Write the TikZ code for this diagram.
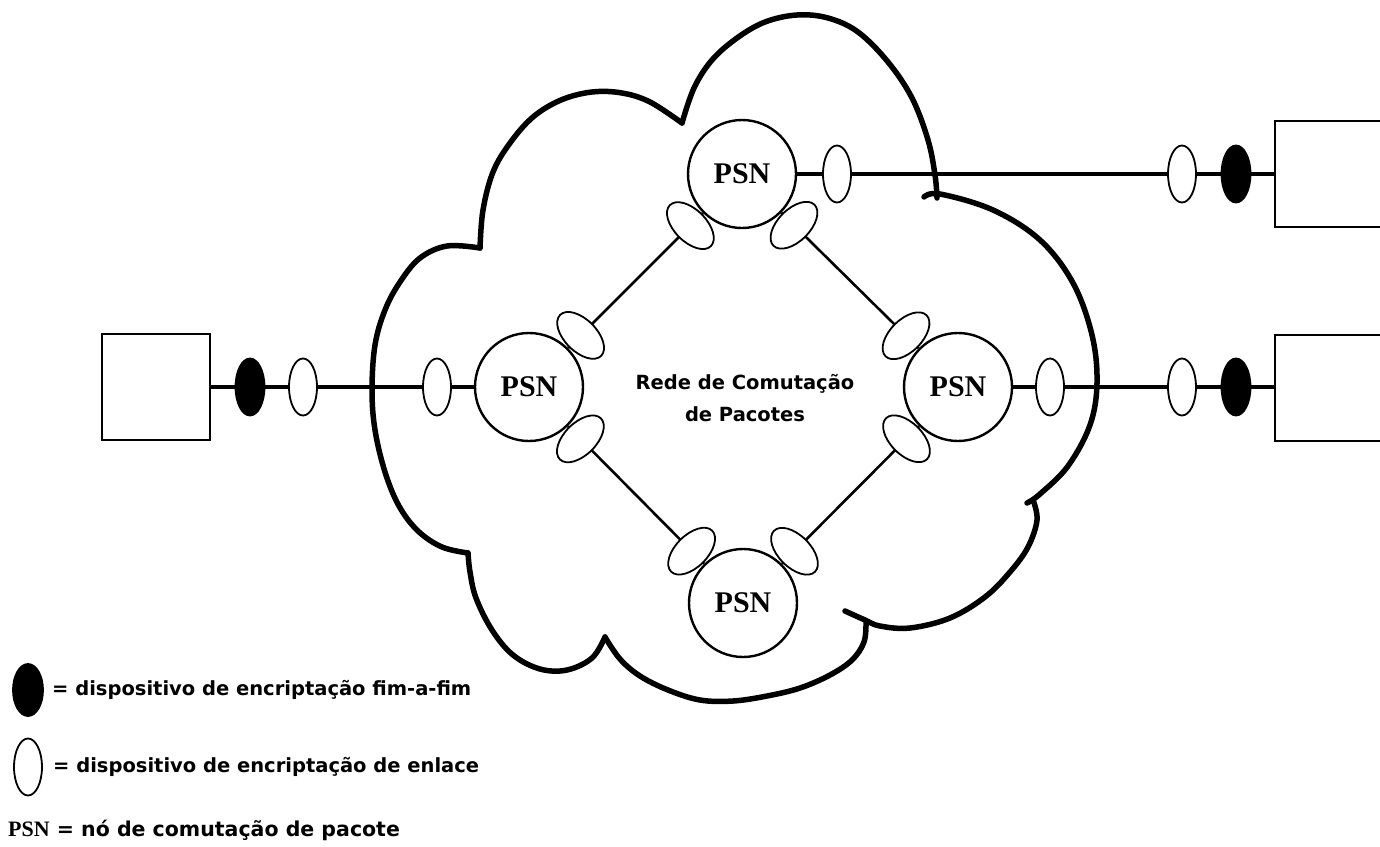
\documentclass[tikz,border=0pt]{standalone}
\usepackage{fontspec}
\setmainfont{Liberation Serif}
\newfontfamily\lsans{DejaVu Sans}
\usetikzlibrary{shapes.geometric,calc}
\begin{document}
\begin{tikzpicture}[x=1pt,y=-1pt,
  cloudline/.style={line width=5.5pt, line cap=round, line join=round},
  hline/.style={line width=3.8pt},
  linkline/.style={line width=2.6pt},
  psn/.style={circle, draw, line width=2.4pt, fill=white, minimum size=108pt, inner sep=0pt, font=\fontsize{30}{32}\selectfont\bfseries},
  linkenc/.style={ellipse, draw, line width=1.8pt, fill=white, minimum width=28pt, minimum height=57pt, inner sep=0pt},
  diagenc/.style={ellipse, draw, line width=1.8pt, fill=white, minimum width=32pt, minimum height=58pt, inner sep=0pt},
  e2e/.style={ellipse, draw, line width=1.8pt, fill=black, minimum width=29pt, minimum height=57pt, inner sep=0pt},
  host/.style={rectangle, draw, line width=2.8pt, fill=white, minimum width=108pt, minimum height=106pt, inner sep=0pt},
  cloudtext/.style={font=\lsans\bfseries\fontsize{19.5}{32}\selectfont, align=center, inner sep=0pt},
  legendtext/.style={font=\lsans\bfseries\fontsize{19.5}{22}\selectfont, anchor=west, inner sep=0pt}
]
\useasboundingbox (0,0) rectangle (1380,846);

% cloud
\draw[cloudline] plot[smooth, tension=0.6] coordinates {(468,553) (442,547) (418,531) (399,506) (385,472) (375,430) (372,390) (375,345) (385,310) (400,282) (420,258) (447,246) (480,248)};
\draw[cloudline] plot[smooth, tension=0.6] coordinates {(480,248) (483,210) (493,172) (510,143) (533,117) (561,100) (592,92) (622,93) (650,102) (682,123)};
\draw[cloudline] plot[smooth, tension=0.6] coordinates {(682,123) (694,88) (712,60) (737,38) (765,22) (797,15) (828,18) (858,32) (888,62) (912,98) (928,140) (935,175) (937,198)};
\draw[cloudline] plot[smooth, tension=0.6] coordinates {(924,197) (940,194) (993,210) (1040,240) (1073,283) (1092,335) (1097,383) (1090,425) (1068,466) (1040,494) (1027,503)};
\draw[cloudline] plot[smooth, tension=0.6] coordinates {(1033,500) (1037,520) (1028,547) (1010,572) (985,597) (950,618) (910,628) (880,626) (865,620) (845,611)};
\draw[cloudline] plot[smooth, tension=0.6] coordinates {(866,622) (864,642) (852,660) (830,675) (800,688) (767,696) (733,701) (700,700) (668,690) (640,676) (620,659) (605,637)};
\draw[cloudline] plot[smooth, tension=0.6] coordinates {(605,637) (592,658) (567,670) (540,669) (513,655) (492,630) (476,598) (470,572) (468,553)};

% packet switching nodes
\node[psn] (pL) at (529,387) {PSN};
\node[psn] (pT) at (742,174) {PSN};
\node[psn] (pR) at (958,387) {PSN};
\node[psn] (pB) at (743,603) {PSN};

% hosts
\node[host] (bL) at (156,387) {};
\node[host, minimum width=110pt] (bTR) at (1330,174) {};
\node[host, minimum width=110pt] (bBR) at (1330,388) {};

% access lines
\draw[hline] (bL) -- (pL);
\draw[hline] (pT) -- (bTR.west |- pT);
\draw[hline] (pR) -- (bBR.west |- pR);

% links between PSNs
\draw[linkline] (pL) -- (pT);
\draw[linkline] (pT) -- (pR);
\draw[linkline] (pL) -- (pB);
\draw[linkline] (pB) -- (pR);

% encryption devices on access lines
\node[e2e] (kL) at (250,387) {};
\node[linkenc] (wL1) at (303,387) {};
\node[linkenc] (wL2) at (437,387) {};
\node[linkenc] (wT) at (837,174) {};
\node[linkenc] (wTR) at (1182,174) {};
\node[e2e] (kTR) at (1236,174) {};
\node[linkenc] (wR) at (1050,387) {};
\node[linkenc] (wRR) at (1182,387) {};
\node[e2e] (kRR) at (1236,387) {};

% encryption devices on PSN links
\node[diagenc, rotate=45] (eLT) at ($(pL)!73pt!(pT)$) {};
\node[diagenc, rotate=45] (eTL) at ($(pT)!73pt!(pL)$) {};
\node[diagenc, rotate=-45] (eTR) at ($(pT)!73pt!(pR)$) {};
\node[diagenc, rotate=-45] (eRT) at ($(pR)!73pt!(pT)$) {};
\node[diagenc, rotate=-45] (eLB) at ($(pL)!73pt!(pB)$) {};
\node[diagenc, rotate=-45] (eBL) at ($(pB)!73pt!(pL)$) {};
\node[diagenc, rotate=45] (eBR) at ($(pB)!73pt!(pR)$) {};
\node[diagenc, rotate=45] (eRB) at ($(pR)!73pt!(pB)$) {};

% cloud caption
\node[cloudtext] (ct) at (745,398) {Rede de Comutação\\de Pacotes};

% legend
\node[e2e, minimum width=30pt, minimum height=52pt] (lk) at (28,690) {};
\node[legendtext] (lt1) at (52,690) {= dispositivo de encriptação fim-a-fim};
\node[linkenc] (lw) at (28,767) {};
\node[legendtext] (lt2) at (53,767) {= dispositivo de encriptação de enlace};
\node[legendtext, font=\lsans\bfseries\fontsize{20.5}{22}\selectfont] (lt3) at (8,830) {{\rmfamily\bfseries\fontsize{22}{22}\selectfont PSN} = nó de comutação de pacote};
\end{tikzpicture}
\end{document}
